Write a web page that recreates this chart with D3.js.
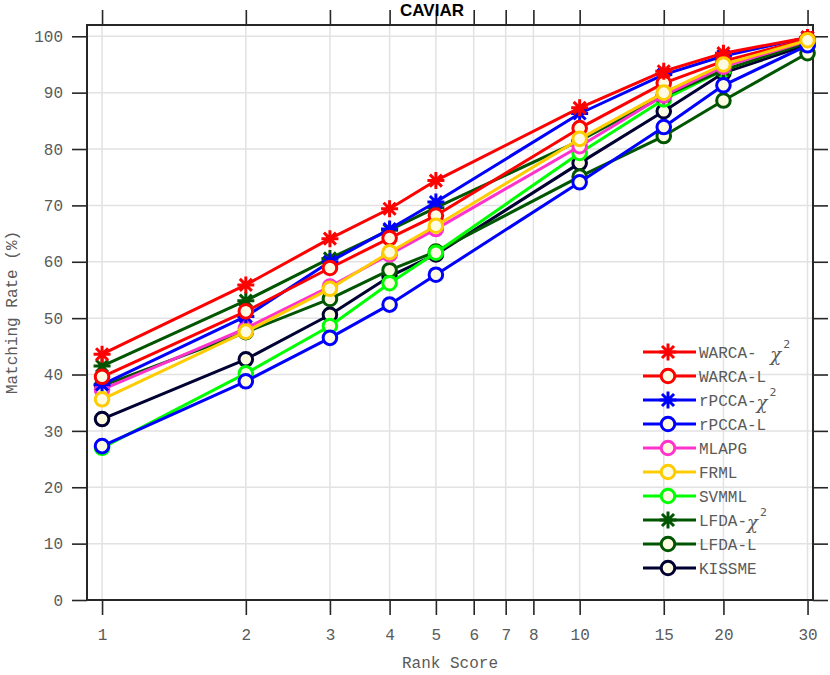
<!DOCTYPE html>
<html>
<head>
<meta charset="utf-8">
<script src="https://cdn.jsdelivr.net/npm/d3@7"></script>
<style>
  body { margin: 0; background: #fff; }
  svg { display: block; }
</style>
</head>
<body>
<script>
// ranks where the curves were sampled / marked
var ranks = [1, 2, 3, 4, 5, 10, 15, 20, 30];
var xTicks = [1, 2, 3, 4, 5, 6, 7, 8, 10, 15, 20, 30];
var yTicks = [0, 10, 20, 30, 40, 50, 60, 70, 80, 90, 100];

var names = ["WARCA- ", "WARCA-L", "rPCCA-", "rPCCA-L", "MLAPG", "FRML", "SVMML", "LFDA-", "LFDA-L", "KISSME"];
var chiLabel = [true, false, true, false, false, false, false, true, false, false];
var markers = ["star", "circle", "star", "circle", "circle", "circle", "circle", "star", "circle", "circle"];
var colors = ["#ff0000", "#ff0000", "#0000ff", "#0000ff", "#ff33cc", "#ffcc00", "#00ff00", "#005500", "#005500", "#000033"];

var warcaChi = [43.6, 55.9, 64.1, 69.4, 74.4, 87.3, 93.8, 97.0, 99.8];
var warcaL   = [39.6, 51.2, 58.9, 64.2, 68.2, 83.7, 91.7, 95.6, 99.5];
var rpccaChi = [38.2, 50.3, 60.0, 65.8, 70.6, 86.3, 93.2, 96.5, 99.8];
var rpccaL   = [27.3, 38.8, 46.5, 52.4, 57.7, 74.1, 83.9, 91.3, 98.4];
var mlapg    = [37.3, 48.2, 55.6, 61.3, 65.8, 80.5, 89.5, 94.6, 99.2];
var frml     = [35.6, 47.6, 55.2, 61.7, 66.4, 81.8, 90.0, 95.0, 99.3];
var svmml    = [27.0, 40.2, 48.6, 56.2, 61.6, 79.3, 88.8, 94.0, 99.0];
var lfdaChi  = [41.5, 53.1, 60.6, 65.6, 69.6, 81.5, 89.4, 94.0, 98.9];
var lfdaL    = [38.0, 47.5, 53.4, 58.5, 61.8, 75.1, 82.3, 88.6, 97.0];
var kissme   = [32.1, 42.7, 50.6, 57.4, 61.3, 77.5, 86.7, 93.5, 98.5];

var values = [warcaChi, warcaL, rpccaChi, rpccaL, mlapg, frml, svmml, lfdaChi, lfdaL, kissme];
// stacking order (bottom first)
var drawOrder = [9, 8, 6, 7, 4, 3, 2, 1, 0, 5];

(function() {
  var W = 830, H = 675;
  var pL = 87, pR = 813, pT = 25, pB = 600;
  var MONO = "'Liberation Mono', 'DejaVu Sans Mono', monospace";

  var svg = d3.select("body").append("svg")
    .attr("width", W)
    .attr("height", H);

  var x = d3.scaleLog().domain([0.93, 30.8]).range([pL, pR]);
  var y = d3.scaleLinear().domain([0, 102]).range([pB, pT]);

  // grid
  svg.append("g").selectAll("line").data(xTicks).enter().append("line")
    .attr("x1", function(d) { return x(d); })
    .attr("x2", function(d) { return x(d); })
    .attr("y1", pT).attr("y2", pB)
    .attr("stroke", "#e2e2e2").attr("stroke-width", 1.5);
  svg.append("g").selectAll("line").data(yTicks).enter().append("line")
    .attr("y1", function(d) { return y(d); })
    .attr("y2", function(d) { return y(d); })
    .attr("x1", pL).attr("x2", pR)
    .attr("stroke", "#e2e2e2").attr("stroke-width", 1.5);

  // axes (outward ticks on all four sides)
  function styleAxis(g) {
    g.select(".domain").remove();
    g.selectAll(".tick line").attr("stroke", "#262626").attr("stroke-width", 1.6);
    g.selectAll(".tick text")
      .attr("fill", "#5a5a5a")
      .style("font-family", MONO)
      .style("font-size", "16px");
  }
  svg.append("g")
    .attr("transform", "translate(0," + pB + ")")
    .call(d3.axisBottom(x).tickValues(xTicks).tickFormat(d3.format("d")).tickSize(15).tickPadding(14))
    .call(styleAxis);
  svg.append("g")
    .attr("transform", "translate(0," + pT + ")")
    .call(d3.axisTop(x).tickValues(xTicks).tickFormat("").tickSize(15))
    .call(styleAxis);
  svg.append("g")
    .attr("transform", "translate(" + pL + ",0)")
    .call(d3.axisLeft(y).tickValues(yTicks).tickFormat(d3.format("d")).tickSize(15).tickPadding(9))
    .call(styleAxis);
  svg.append("g")
    .attr("transform", "translate(" + pR + ",0)")
    .call(d3.axisRight(y).tickValues(yTicks).tickFormat("").tickSize(15))
    .call(styleAxis);

  svg.append("rect")
    .attr("x", pL).attr("y", pT)
    .attr("width", pR - pL).attr("height", pB - pT)
    .attr("fill", "none").attr("stroke", "#262626").attr("stroke-width", 2);

  // labels
  svg.append("text")
    .attr("x", 432).attr("y", 16)
    .attr("text-anchor", "middle")
    .style("font-family", "'Liberation Sans', Arial, sans-serif")
    .style("font-weight", "bold").style("font-size", "17px")
    .text("CAVIAR");
  svg.append("text")
    .attr("x", (pL + pR) / 2).attr("y", 668)
    .attr("text-anchor", "middle").attr("fill", "#5a5a5a")
    .style("font-family", MONO).style("font-size", "16px")
    .text("Rank Score");
  svg.append("text")
    .attr("transform", "translate(17," + ((pT + pB) / 2) + ") rotate(-90)")
    .attr("text-anchor", "middle").attr("fill", "#5a5a5a")
    .style("font-family", MONO).style("font-size", "16px")
    .text("Matching Rate (%)");

  function starPath(r) {
    var p = "";
    for (var k = 0; k < 4; k++) {
      var a = k * Math.PI / 4;
      p += "M" + (-r * Math.cos(a)) + "," + (-r * Math.sin(a)) + "L" + (r * Math.cos(a)) + "," + (r * Math.sin(a));
    }
    return p;
  }

  function drawMarker(g, type, color) {
    if (type === "star") {
      g.append("path").attr("d", starPath(8.5))
        .attr("stroke", color).attr("stroke-width", 3).attr("fill", "none");
    } else {
      g.append("circle").attr("r", 6.8)
        .attr("fill", "#fffbe3").attr("stroke", color).attr("stroke-width", 3);
    }
  }

  var line = d3.line()
    .x(function(d) { return x(d[0]); })
    .y(function(d) { return y(d[1]); });

  drawOrder.forEach(function(i) {
    var pts = ranks.map(function(r, j) { return [r, values[i][j]]; });
    var g = svg.append("g");
    g.append("path").datum(pts)
      .attr("d", line)
      .attr("fill", "none")
      .attr("stroke", colors[i])
      .attr("stroke-width", 3)
      .attr("stroke-linejoin", "round");
    g.selectAll("g.m").data(pts).enter().append("g")
      .attr("class", "m")
      .attr("transform", function(d) { return "translate(" + x(d[0]) + "," + y(d[1]) + ")"; })
      .each(function() { drawMarker(d3.select(this), markers[i], colors[i]); });
  });

  // legend
  var legend = svg.append("g");
  names.forEach(function(name, i) {
    var ly = 352 + i * 24;
    var row = legend.append("g").attr("transform", "translate(0," + ly + ")");
    row.append("line").attr("x1", 643).attr("x2", 696).attr("y1", 0).attr("y2", 0)
      .attr("stroke", colors[i]).attr("stroke-width", 3);
    var m = row.append("g").attr("transform", "translate(668,0)");
    drawMarker(m, markers[i], colors[i]);
    var t = row.append("text").attr("x", 699).attr("y", 6)
      .attr("fill", "#5a5a5a")
      .style("font-family", MONO).style("font-size", "16px");
    t.append("tspan").text(name);
    if (chiLabel[i]) {
      t.append("tspan")
        .style("font-family", "'DejaVu Serif', serif")
        .style("font-style", "italic").style("font-size", "18px")
        .attr("dx", name === "WARCA- " ? 4 : 0).attr("dy", 3)
        .text("\u03c7");
      t.append("tspan")
        .style("font-family", "'DejaVu Sans', sans-serif")
        .style("font-size", "11px").attr("dy", -13).attr("dx", 2)
        .text("2");
    }
  });
})();
</script>
</body>
</html>
